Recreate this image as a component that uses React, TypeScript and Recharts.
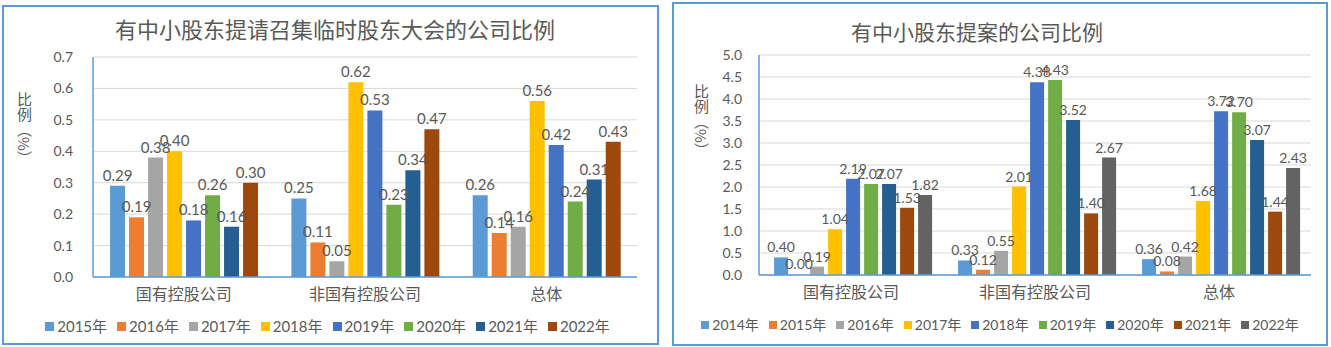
import React from "react";
import {
  BarChart,
  Bar,
  Cell,
  XAxis,
  YAxis,
  CartesianGrid,
  LabelList,
  Legend,
} from "recharts";

const categories = ["国有控股公司", "非国有控股公司", "总体"];

// left chart: 提请召集临时股东大会
const meetingYears = ["2015年", "2016年", "2017年", "2018年", "2019年", "2020年", "2021年", "2022年"];
const meetingSoe = [0.29, 0.19, 0.38, 0.4, 0.18, 0.26, 0.16, 0.3];
const meetingNonSoe = [0.25, 0.11, 0.05, 0.62, 0.53, 0.23, 0.34, 0.47];
const meetingTotal = [0.26, 0.14, 0.16, 0.56, 0.42, 0.24, 0.31, 0.43];
const meetingTicks = [0, 0.1, 0.2, 0.3, 0.4, 0.5, 0.6, 0.7];
const meetingColors = ["#5B9BD5", "#ED7D31", "#A5A5A5", "#FFC000", "#4472C4", "#70AD47", "#255E91", "#9E480E"];

// right chart: 提案
const proposalYears = ["2014年", "2015年", "2016年", "2017年", "2018年", "2019年", "2020年", "2021年", "2022年"];
const proposalSoe = [0.4, 0.0, 0.19, 1.04, 2.19, 2.07, 2.07, 1.53, 1.82];
const proposalNonSoe = [0.33, 0.12, 0.55, 2.01, 4.38, 4.43, 3.52, 1.4, 2.67];
const proposalTotal = [0.36, 0.08, 0.42, 1.68, 3.72, 3.7, 3.07, 1.44, 2.43];
const proposalTicks = [0, 0.5, 1, 1.5, 2, 2.5, 3, 3.5, 4, 4.5, 5];
const proposalColors = ["#5B9BD5", "#ED7D31", "#A5A5A5", "#FFC000", "#4472C4", "#70AD47", "#255E91", "#9E480E", "#636363"];

const TEXT = "#595959";
const FONT = "Lato, 'Noto Sans CJK SC', sans-serif";
const CJK = "'Noto Sans CJK SC', sans-serif";

const buildRows = (years: string[], groups: number[][]) =>
  categories.map((name, i) => {
    const row: Record<string, any> = { name };
    years.forEach((y, j) => {
      row[y] = groups[i][j];
    });
    return row;
  });

const meetingRows = buildRows(meetingYears, [meetingSoe, meetingNonSoe, meetingTotal]);
const proposalRows = buildRows(proposalYears, [proposalSoe, proposalNonSoe, proposalTotal]);

const legendContent = (fontSize: number, box: number) => (props: any) => (
  <div
    style={{
      display: "flex",
      justifyContent: "center",
      fontSize,
      color: TEXT,
      fontFamily: FONT,
      lineHeight: "18px",
      whiteSpace: "nowrap",
    }}
  >
    {(props.payload || []).map((p: any) => (
      <span key={p.value} style={{ display: "inline-flex", alignItems: "center", marginRight: 10 }}>
        <span style={{ width: box, height: box, background: p.color, marginRight: 3, display: "inline-block" }} />
        {p.value}
      </span>
    ))}
  </div>
);

interface PanelProps {
  rows: any[];
  years: string[];
  colors: string[];
  ticks: number[];
  title: string;
  chartLeft: number;
  chartWidth: number;
  margin: { top: number; right: number; bottom: number; left: number };
  yWidth: number;
  yTickMargin: number;
  frame: { left: number; top: number; width: number; height: number };
  titleX: number;
  titleY: number;
  titleSize: number;
  labelX: number;
  labelTop: number;
  legendTop: number;
  legendLeft: number;
  legendSize: number;
  legendBox: number;
  valueSize: number;
  categoryGap: string;
}

const Panel: React.FC<PanelProps> = (p) => (
  <>
    <div
      style={{
        position: "absolute",
        left: p.frame.left,
        top: p.frame.top,
        width: p.frame.width,
        height: p.frame.height,
        border: "2px solid #5B9BD5",
        boxSizing: "border-box",
      }}
    />
    <div
      style={{
        position: "absolute",
        left: p.titleX - 320,
        width: 640,
        top: p.titleY - p.titleSize / 2,
        textAlign: "center",
        fontSize: p.titleSize,
        lineHeight: 1,
        color: TEXT,
        fontFamily: CJK,
      }}
    >
      {p.title}
    </div>
    <div
      style={{
        position: "absolute",
        left: p.labelX - 8,
        top: p.labelTop,
        writingMode: "vertical-rl",
        fontSize: 15,
        lineHeight: 1,
        color: TEXT,
        fontFamily: CJK,
      }}
    >
      比例（%）
    </div>
    <div style={{ position: "absolute", left: p.chartLeft, top: 0 }}>
      <BarChart
        width={p.chartWidth}
        height={347}
        data={p.rows}
        margin={p.margin}
        barCategoryGap={p.categoryGap}
        barGap={4}
      >
        <CartesianGrid vertical={false} stroke="#D9D9D9" />
        <XAxis
          dataKey="name"
          height={30}
          tickLine={false}
          tickSize={0}
          tickMargin={12}
          axisLine={{ stroke: "#5B9BD5", strokeWidth: 1.5 }}
          tick={{ fill: TEXT, fontSize: 16, fontFamily: CJK }}
        />
        <YAxis
          width={p.yWidth}
          domain={[p.ticks[0], p.ticks[p.ticks.length - 1]]}
          ticks={p.ticks}
          interval={0}
          tickLine={false}
          tickSize={0}
          tickMargin={p.yTickMargin}
          axisLine={{ stroke: "#5B9BD5", strokeWidth: 1.5 }}
          tickFormatter={(v: number) => v.toFixed(1)}
          tick={{ fill: TEXT, fontSize: 14, fontFamily: FONT }}
        />
        <Legend
          verticalAlign="middle"
          layout="horizontal"
          wrapperStyle={{ top: p.legendTop, left: p.legendLeft, width: p.chartWidth }}
          content={legendContent(p.legendSize, p.legendBox)}
        />
        {p.years.map((y, i) => (
          <Bar
            key={y}
            dataKey={y}
            name={y}
            fill={p.colors[i]}
            minPointSize={1}
            isAnimationActive={false}
          >
            {p.rows.map((r, k) => (
              <Cell key={k} fill={p.colors[i]} fillOpacity={r[y] === 0 ? 0 : 1} />
            ))}
            <LabelList
              dataKey={y}
              position="top"
              formatter={(v: any) => Number(v).toFixed(2)}
              fill={TEXT}
              fontSize={p.valueSize}
              fontFamily={FONT}
            />
          </Bar>
        ))}
      </BarChart>
    </div>
  </>
);

export default function App() {
  return (
    <div
      style={{
        position: "absolute",
        left: 0,
        top: 0,
        width: 1331,
        height: 347,
        background: "#fff",
        overflow: "hidden",
      }}
    >
      <Panel
        rows={meetingRows}
        years={meetingYears}
        colors={meetingColors}
        ticks={meetingTicks}
        title="有中小股东提请召集临时股东大会的公司比例"
        chartLeft={0}
        chartWidth={665}
        margin={{ top: 57, right: 28, bottom: 40, left: 0 }}
        yWidth={93}
        yTickMargin={20}
        frame={{ left: 2, top: 5, width: 657, height: 340 }}
        titleX={335}
        titleY={28}
        titleSize={22}
        labelX={25}
        labelTop={92}
        legendTop={317}
        legendLeft={0}
        legendSize={15}
        legendBox={9}
        valueSize={15}
        categoryGap="9.4%"
      />
      <Panel
        rows={proposalRows}
        years={proposalYears}
        colors={proposalColors}
        ticks={proposalTicks}
        title="有中小股东提案的公司比例"
        chartLeft={665}
        chartWidth={666}
        margin={{ top: 55, right: 20, bottom: 42, left: 0 }}
        yWidth={94}
        yTickMargin={17}
        frame={{ left: 672, top: 2, width: 656, height: 344 }}
        titleX={977}
        titleY={31}
        titleSize={21}
        labelX={702}
        labelTop={84}
        legendTop={316}
        legendLeft={7}
        legendSize={14}
        legendBox={8}
        valueSize={14}
        categoryGap="8.2%"
      />
    </div>
  );
}
